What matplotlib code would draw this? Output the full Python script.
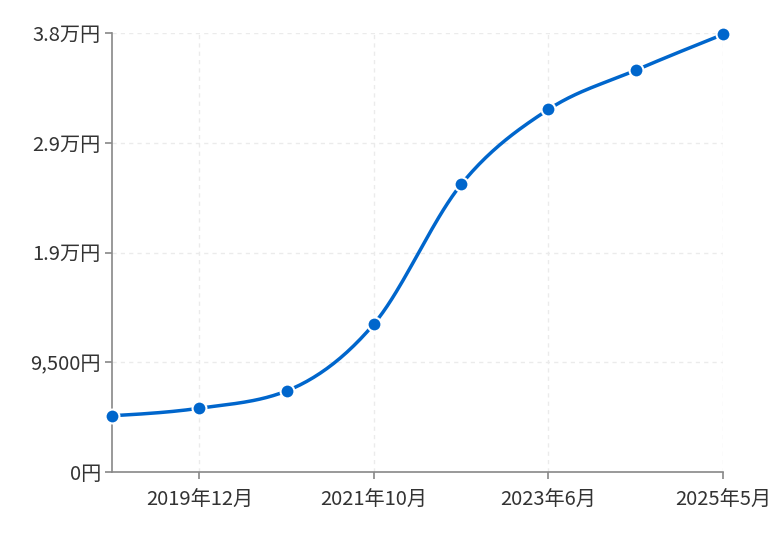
import numpy as np
import matplotlib
matplotlib.use("Agg")
import matplotlib.pyplot as plt

plt.rcParams['font.family'] = ['Noto Sans CJK JP', 'DejaVu Sans']

categories = ["2019年1月", "2019年12月", "2020年11月", "2021年10月",
              "2022年8月", "2023年6月", "2024年5月", "2025年5月"]
values = [4850, 5500, 7000, 12800, 24900, 31400, 34800, 37900]
y_ticks = [0, 9500, 19000, 28500, 38000]
y_tick_labels = ["0円", "9,500円", "1.9万円", "2.9万円", "3.8万円"]
shown_idx = [1, 3, 5, 7]

LINE = "#0066CC"
AXIS = "#888888"
TEXT = "#333333"


def monotone_curve(x, y, n=40):
    x = np.asarray(x, float)
    y = np.asarray(y, float)
    h = np.diff(x)
    s = np.diff(y) / h
    m = np.zeros_like(y)
    for i in range(1, len(x) - 1):
        if s[i - 1] * s[i] <= 0:
            m[i] = 0
        else:
            m[i] = (np.sign(s[i - 1]) + np.sign(s[i])) * min(abs(s[i - 1]), abs(s[i]),
                   0.5 * abs((h[i - 1] * s[i] + h[i] * s[i - 1]) / (h[i - 1] + h[i])))
    m[0] = (3 * s[0] - m[1]) / 2 if len(x) > 2 else s[0]
    m[-1] = (3 * s[-1] - m[-2]) / 2 if len(x) > 2 else s[-1]
    xs, ys = [], []
    for i in range(len(x) - 1):
        t = np.linspace(0, 1, n)
        h00 = 2 * t**3 - 3 * t**2 + 1
        h10 = t**3 - 2 * t**2 + t
        h01 = -2 * t**3 + 3 * t**2
        h11 = t**3 - t**2
        xs.append(x[i] + t * h[i])
        ys.append(h00 * y[i] + h10 * h[i] * m[i] + h01 * y[i + 1] + h11 * h[i] * m[i + 1])
    return np.concatenate(xs), np.concatenate(ys)


fig = plt.figure(figsize=(7.81, 5.40), dpi=100)
ax = fig.add_axes([112 / 781, 1 - 471.7 / 540, (723 - 112) / 781, (471.7 - 33.3) / 540])

xi = np.arange(len(categories))
cx, cy = monotone_curve(xi, values)
ax.plot(cx, cy, color=LINE, lw=2.5, solid_capstyle='round', clip_on=False, zorder=3)
ax.plot(xi, values, linestyle='none', marker='o', ms=10, mfc=LINE, mec='white',
        mew=1.5, clip_on=False, zorder=4)

ax.set_xlim(0, len(categories) - 1)
ax.set_ylim(0, 38000)

ax.set_xticks([xi[i] for i in shown_idx])
ax.set_xticklabels([categories[i] for i in shown_idx])
ax.set_yticks(y_ticks)
ax.set_yticklabels(y_tick_labels)

for v in y_ticks[1:]:
    ax.axhline(v, color="#ebebeb", lw=1, ls=(0, (3, 3)), zorder=1)
for i in shown_idx:
    ax.axvline(xi[i], color="#ebebeb", lw=1, ls=(0, (3, 3)), zorder=1)

for sp in ["top", "right"]:
    ax.spines[sp].set_visible(False)
for sp in ["left", "bottom"]:
    ax.spines[sp].set_color(AXIS)
    ax.spines[sp].set_linewidth(1.2)

ax.tick_params(axis='both', colors=AXIS, length=5, width=1.2, labelsize=14.5,
               labelcolor=TEXT)
ax.tick_params(axis='x', pad=8)
ax.tick_params(axis='y', pad=3)

fig.savefig("out.png", dpi=100)
